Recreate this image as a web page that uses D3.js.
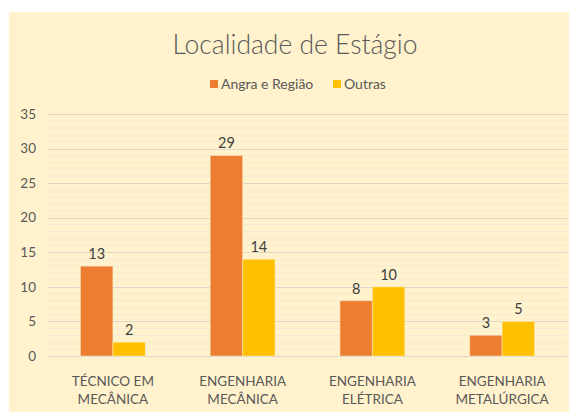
<!DOCTYPE html>
<html><head><meta charset="utf-8">
<script src="https://cdn.jsdelivr.net/npm/d3@7"></script>
<style>html,body{margin:0;padding:0;background:#fff;}svg{display:block;}</style>
</head><body>
<script>
const categories = [["TÉCNICO EM","MECÂNICA"],["ENGENHARIA","MECÂNICA"],["ENGENHARIA","ELÉTRICA"],["ENGENHARIA","METALÚRGICA"]];
const seriesNames = ["Angra e Região","Outras"];
const angra = [13, 29, 8, 3];
const outras = [2, 14, 10, 5];
const yTicks = [0,5,10,15,20,25,30,35];
const colors = ["#ED7D31","#FFC000"];

const W = 569, H = 412;
const svg = d3.select("body").append("svg").attr("width", W).attr("height", H);
svg.append("rect").attr("x", 9).attr("y", 12).attr("width", W-9).attr("height", H-12).attr("fill", "#FFF2CC");

const x0 = d3.scaleBand().domain(d3.range(categories.length)).range([48, 567]).paddingInner(0.5).paddingOuter(0.25);
const x1 = d3.scaleBand().domain([0,1]).range([0, x0.bandwidth()]);
const y = d3.scaleLinear().domain([0,35]).range([356, 114]);

// minor gridlines
const minor = d3.range(0, 36).filter(v => v % 5 !== 0);
svg.append("g").selectAll("line").data(minor).join("line")
  .attr("x1", 48).attr("x2", 567).attr("y1", d => y(d)).attr("y2", d => y(d))
  .attr("stroke", "#F4EAD2").attr("stroke-width", 1);
// major gridlines
svg.append("g").selectAll("line").data(yTicks).join("line")
  .attr("x1", 48).attr("x2", 567).attr("y1", d => Math.round(y(d))+0.5).attr("y2", d => Math.round(y(d))+0.5)
  .attr("stroke", "#DDD7C8").attr("stroke-width", 1);

// y labels
svg.append("g").selectAll("text").data(yTicks).join("text")
  .attr("x", 36).attr("y", d => y(d)).attr("dy", "0.35em").attr("text-anchor", "end")
  .attr("font-family", "Lato, 'Open Sans', sans-serif").attr("font-size", 13.5).attr("fill", "#595959")
  .text(d => d);

const data = [angra, outras];
const groups = svg.append("g");
data.forEach((vals, si) => {
  groups.append("g").selectAll("rect").data(vals).join("rect")
    .attr("x", (d,i) => x0(i) + x1(si))
    .attr("y", d => y(d))
    .attr("width", x1.bandwidth())
    .attr("height", d => y(0) - y(d))
    .attr("fill", colors[si])
    .attr("stroke", "#FFF2CC").attr("stroke-opacity", 0.5).attr("stroke-width", 1);
  groups.append("g").selectAll("text").data(vals).join("text")
    .attr("x", (d,i) => x0(i) + x1(si) + x1.bandwidth()/2)
    .attr("y", d => y(d) - 7)
    .attr("text-anchor", "middle")
    .attr("font-family", "Lato, 'Open Sans', sans-serif").attr("font-size", 14.5).attr("fill", "#404040")
    .text(d => d);
});

// category labels
const cl = svg.append("g").selectAll("text").data(categories).join("text")
  .attr("x", (d,i) => x0(i) + x0.bandwidth()/2)
  .attr("y", 386)
  .attr("text-anchor", "middle")
  .attr("font-family", "Lato, 'Open Sans', sans-serif").attr("font-size", 13.5).attr("fill", "#595959");
cl.each(function(d){
  const t = d3.select(this);
  d.forEach((line, k) => t.append("tspan").attr("x", t.attr("x")).attr("dy", k === 0 ? 0 : 18).text(line));
});

// title
svg.append("text").attr("x", 295).attr("y", 54).attr("text-anchor", "middle")
  .attr("font-family", "Lato, 'Open Sans', sans-serif").attr("font-weight", 300).attr("font-size", 26.5)
  .attr("fill", "#595959").text("Localidade de Estágio");

// legend
const legendX = [210, 333];
seriesNames.forEach((n, i) => {
  svg.append("rect").attr("x", legendX[i]).attr("y", 80).attr("width", 8).attr("height", 8).attr("fill", colors[i]);
  svg.append("text").attr("x", legendX[i] + 11).attr("y", 84).attr("dy", "0.35em")
    .attr("font-family", "Lato, 'Open Sans', sans-serif").attr("font-size", 14).attr("fill", "#595959").text(n);
});
</script>
</body></html>
